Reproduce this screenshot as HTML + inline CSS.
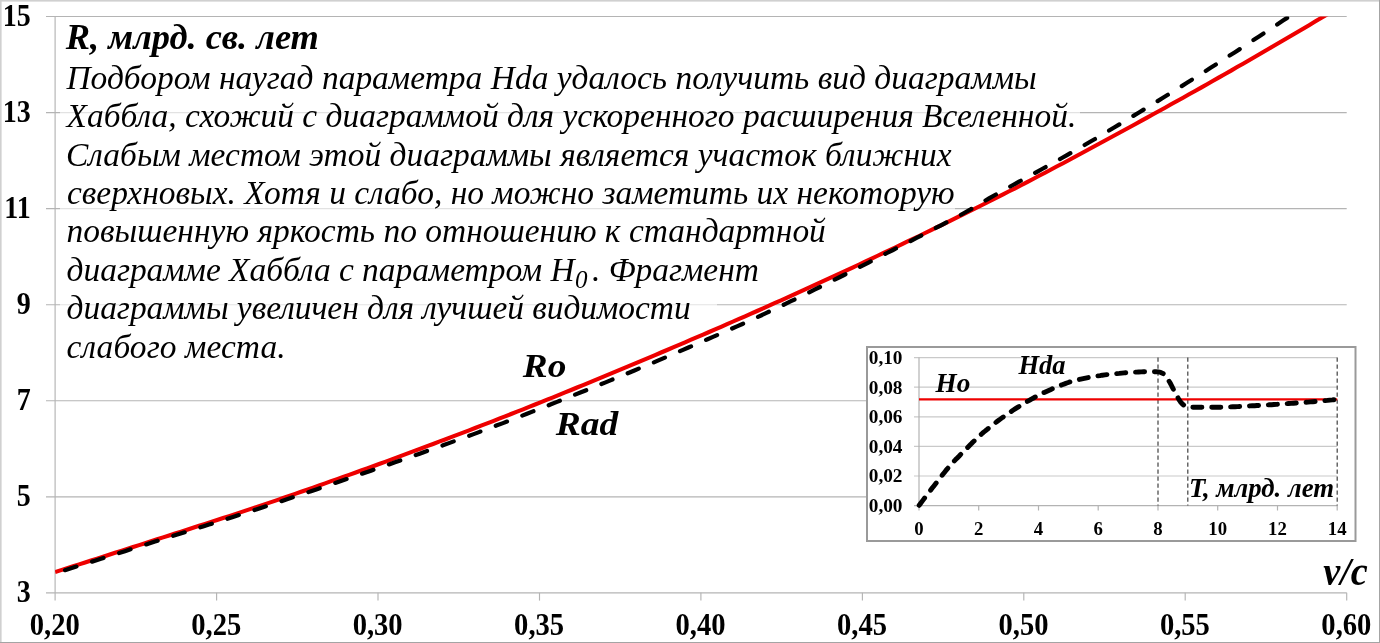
<!DOCTYPE html>
<html lang="ru"><head><meta charset="utf-8"><title>Диаграмма Хаббла</title>
<style>
html,body{margin:0;padding:0;background:#fff;}
body{width:1380px;height:643px;overflow:hidden;}
svg{display:block;}
text{font-family:"Liberation Serif",serif;fill:#000;}
.ax{font-weight:bold;}
.bi{font-weight:bold;font-style:italic;}
.it{font-style:italic;}
</style></head><body>
<svg width="1380" height="643" viewBox="0 0 1380 643">
<rect x="0" y="0" width="1380" height="643" fill="#fff"/>

<line x1="46" y1="592.9" x2="1346.7" y2="592.9" stroke="#b4b4b4" stroke-width="1.15"/>
<line x1="46" y1="496.8" x2="1346.7" y2="496.8" stroke="#b4b4b4" stroke-width="1.15"/>
<line x1="46" y1="400.7" x2="1346.7" y2="400.7" stroke="#b4b4b4" stroke-width="1.15"/>
<line x1="46" y1="304.7" x2="1346.7" y2="304.7" stroke="#b4b4b4" stroke-width="1.15"/>
<line x1="46" y1="208.6" x2="1346.7" y2="208.6" stroke="#b4b4b4" stroke-width="1.15"/>
<line x1="46" y1="112.6" x2="1346.7" y2="112.6" stroke="#b4b4b4" stroke-width="1.15"/>
<line x1="46" y1="16.5" x2="1346.7" y2="16.5" stroke="#b4b4b4" stroke-width="1.15"/>
<line x1="55.1" y1="16.5" x2="55.1" y2="600.6" stroke="#b4b4b4" stroke-width="1.15"/>
<line x1="216.6" y1="592.85" x2="216.6" y2="600.6" stroke="#b4b4b4" stroke-width="1.15"/>
<line x1="378.0" y1="592.85" x2="378.0" y2="600.6" stroke="#b4b4b4" stroke-width="1.15"/>
<line x1="539.5" y1="592.85" x2="539.5" y2="600.6" stroke="#b4b4b4" stroke-width="1.15"/>
<line x1="700.9" y1="592.85" x2="700.9" y2="600.6" stroke="#b4b4b4" stroke-width="1.15"/>
<line x1="862.4" y1="592.85" x2="862.4" y2="600.6" stroke="#b4b4b4" stroke-width="1.15"/>
<line x1="1023.8" y1="592.85" x2="1023.8" y2="600.6" stroke="#b4b4b4" stroke-width="1.15"/>
<line x1="1185.2" y1="592.85" x2="1185.2" y2="600.6" stroke="#b4b4b4" stroke-width="1.15"/>
<line x1="1346.7" y1="592.85" x2="1346.7" y2="600.6" stroke="#b4b4b4" stroke-width="1.15"/>
<rect x="60" y="20" width="1020" height="131" fill="#fff" fill-opacity="0.62"/>
<rect x="60" y="151" width="895" height="77" fill="#fff" fill-opacity="0.62"/>
<rect x="60" y="228" width="770" height="38" fill="#fff" fill-opacity="0.62"/>
<rect x="60" y="266" width="700" height="38" fill="#fff" fill-opacity="0.62"/>
<rect x="60" y="304" width="657" height="61" fill="#fff" fill-opacity="0.62"/>
<clipPath id="plot"><rect x="55.1" y="16.5" width="1291.6000000000001" height="576.35"/></clipPath>
<g clip-path="url(#plot)"><polyline points="55.1,572.0 61.1,570.1 67.1,568.2 73.1,566.3 79.1,564.4 85.1,562.5 91.1,560.5 97.1,558.6 103.1,556.7 109.1,554.8 115.1,552.8 121.1,550.9 127.1,549.0 133.1,547.0 139.1,545.1 145.1,543.2 151.1,541.2 157.1,539.3 163.1,537.4 169.1,535.5 175.1,533.5 181.1,531.6 187.1,529.7 193.1,527.7 199.1,525.8 205.1,523.9 211.1,521.9 217.1,520.0 223.1,518.0 229.1,516.1 235.1,514.1 241.1,512.1 247.1,510.1 253.1,508.1 259.1,506.1 265.1,504.1 271.1,502.1 277.1,500.1 283.1,498.0 289.1,496.0 295.1,493.9 301.1,491.8 307.1,489.7 313.1,487.6 319.1,485.5 325.1,483.4 331.1,481.2 337.1,479.1 343.1,477.0 349.1,474.8 355.1,472.7 361.1,470.5 367.1,468.3 373.1,466.2 379.1,464.0 385.1,461.8 391.1,459.6 397.1,457.4 403.1,455.2 409.1,452.9 415.1,450.7 421.1,448.5 427.1,446.2 433.1,444.0 439.1,441.7 445.1,439.5 451.1,437.2 457.1,434.9 463.1,432.6 469.1,430.3 475.1,428.0 481.1,425.7 487.1,423.4 493.1,421.1 499.1,418.7 505.1,416.4 511.1,414.0 517.1,411.7 523.1,409.3 529.1,406.9 535.1,404.5 541.1,402.1 547.1,399.7 553.1,397.3 559.1,394.8 565.1,392.4 571.1,390.0 577.1,387.5 583.1,385.1 589.1,382.6 595.1,380.1 601.1,377.6 607.1,375.2 613.1,372.7 619.1,370.2 625.1,367.7 631.1,365.2 637.1,362.6 643.1,360.1 649.1,357.6 655.1,355.1 661.1,352.5 667.1,350.0 673.1,347.4 679.1,344.9 685.1,342.3 691.1,339.7 697.1,337.2 703.1,334.6 709.1,332.0 715.1,329.4 721.1,326.8 727.1,324.2 733.1,321.5 739.1,318.9 745.1,316.3 751.1,313.6 757.1,311.0 763.1,308.3 769.1,305.6 775.1,302.9 781.1,300.3 787.1,297.6 793.1,294.8 799.1,292.1 805.1,289.4 811.1,286.7 817.1,283.9 823.1,281.2 829.1,278.4 835.1,275.6 841.1,272.9 847.1,270.1 853.1,267.3 859.1,264.5 865.1,261.7 871.1,258.8 877.1,256.0 883.1,253.2 889.1,250.3 895.1,247.5 901.1,244.6 907.1,241.7 913.1,238.8 919.1,236.0 925.1,233.0 931.1,230.1 937.1,227.2 943.1,224.3 949.1,221.3 955.1,218.4 961.1,215.4 967.1,212.5 973.1,209.5 979.1,206.5 985.1,203.5 991.1,200.5 997.1,197.4 1003.1,194.4 1009.1,191.3 1015.1,188.3 1021.1,185.2 1027.1,182.1 1033.1,179.0 1039.1,175.8 1045.1,172.7 1051.1,169.5 1057.1,166.3 1063.1,163.2 1069.1,160.0 1075.1,156.7 1081.1,153.5 1087.1,150.3 1093.1,147.0 1099.1,143.8 1105.1,140.5 1111.1,137.3 1117.1,134.0 1123.1,130.7 1129.1,127.5 1135.1,124.2 1141.1,120.9 1147.1,117.6 1153.1,114.3 1159.1,111.0 1165.1,107.7 1171.1,104.3 1177.1,101.0 1183.1,97.7 1189.1,94.3 1195.1,91.0 1201.1,87.6 1207.1,84.2 1213.1,80.8 1219.1,77.4 1225.1,74.0 1231.1,70.6 1237.1,67.1 1243.1,63.7 1249.1,60.2 1255.1,56.8 1261.1,53.3 1267.1,49.8 1273.1,46.3 1279.1,42.8 1285.1,39.3 1291.1,35.8 1297.1,32.3 1303.1,28.7 1309.1,25.2 1315.1,21.6 1321.1,18.1 1327.1,14.5 1333.1,10.9 1339.1,7.3" fill="none" stroke="#ee0000" stroke-width="4.1" stroke-linejoin="round"/>
<polyline points="65.0,570.2 71.0,568.3 77.0,566.4 83.0,564.5 89.0,562.6 95.0,560.7 101.0,558.8 107.0,556.9 113.0,555.0 119.0,553.1 125.0,551.2 131.0,549.2 137.0,547.3 143.0,545.4 149.0,543.5 155.0,541.6 161.0,539.7 167.0,537.8 173.0,535.9 179.0,534.1 185.0,532.2 191.0,530.3 197.0,528.4 203.0,526.5 209.0,524.6 215.0,522.7 221.0,520.8 227.0,518.9 233.0,516.9 239.0,515.0 245.0,513.1 251.0,511.2 257.0,509.2 263.0,507.2 269.0,505.3 275.0,503.3 281.0,501.3 287.0,499.3 293.0,497.3 299.0,495.3 305.0,493.3 311.0,491.2 317.0,489.2 323.0,487.1 329.0,485.1 335.0,483.0 341.0,481.0 347.0,478.9 353.0,476.9 359.0,474.8 365.0,472.7 371.0,470.7 377.0,468.6 383.0,466.5 389.0,464.4 395.0,462.3 401.0,460.2 407.0,458.1 413.0,456.0 419.0,453.9 425.0,451.7 431.0,449.6 437.0,447.4 443.0,445.3 449.0,443.1 455.0,440.9 461.0,438.8 467.0,436.6 473.0,434.4 479.0,432.1 485.0,429.9 491.0,427.6 497.0,425.3 503.0,423.1 509.0,420.8 515.0,418.4 521.0,416.1 527.0,413.8 533.0,411.4 539.0,409.1 545.0,406.7 551.0,404.3 557.0,401.9 563.0,399.5 569.0,397.1 575.0,394.7 581.0,392.3 587.0,389.9 593.0,387.5 599.0,385.0 605.0,382.6 611.0,380.1 617.0,377.7 623.0,375.2 629.0,372.7 635.0,370.2 641.0,367.7 647.0,365.2 653.0,362.7 659.0,360.1 665.0,357.6 671.0,355.0 677.0,352.5 683.0,349.9 689.0,347.3 695.0,344.7 701.0,342.1 707.0,339.5 713.0,336.9 719.0,334.3 725.0,331.6 731.0,329.0 737.0,326.3 743.0,323.7 749.0,321.0 755.0,318.2 761.0,315.5 767.0,312.6 773.0,309.8 779.0,307.0 785.0,304.1 791.0,301.2 797.0,298.3 803.0,295.3 809.0,292.4 815.0,289.4 821.0,286.5 827.0,283.5 833.0,280.5 839.0,277.5 845.0,274.5 851.0,271.5 857.0,268.4 863.0,265.3 869.0,262.3 875.0,259.2 881.0,256.1 887.0,253.0 893.0,250.0 899.0,246.9 905.0,243.9 911.0,240.8 917.0,237.7 923.0,234.6 929.0,231.5 935.0,228.4 941.0,225.3 947.0,222.1 953.0,219.0 959.0,215.8 965.0,212.5 971.0,209.1 977.0,205.5 983.0,201.9 989.0,198.4 995.0,195.0 1001.0,191.7 1007.0,188.3 1013.0,185.0 1019.0,181.7 1025.0,178.4 1031.0,175.1 1037.0,171.8 1043.0,168.5 1049.0,165.2 1055.0,161.8 1061.0,158.5 1067.0,155.1 1073.0,151.7 1079.0,148.3 1085.0,144.8 1091.0,141.3 1097.0,137.8 1103.0,134.2 1109.0,130.6 1115.0,127.0 1121.0,123.4 1127.0,119.8 1133.0,116.1 1139.0,112.5 1145.0,108.8 1151.0,105.2 1157.0,101.5 1163.0,97.8 1169.0,94.1 1175.0,90.3 1181.0,86.6 1187.0,82.8 1193.0,79.0 1199.0,75.3 1205.0,71.4 1211.0,67.6 1217.0,63.8 1223.0,59.9 1229.0,56.0 1235.0,52.2 1241.0,48.3 1247.0,44.4 1253.0,40.4 1259.0,36.5 1265.0,32.6 1271.0,28.6 1277.0,24.6 1283.0,20.6 1289.0,16.7 1295.0,12.6 1301.0,8.6 1307.0,4.5" fill="none" stroke="#000" stroke-width="4.2" stroke-linecap="round" stroke-dasharray="12 16.4" stroke-linejoin="round"/></g>
<text id="y3" class="ax" font-size="28" transform="translate(30.75 602.05) scale(1 1.11)" text-anchor="end">3</text>
<text id="y5" class="ax" font-size="28" transform="translate(30.75 505.99) scale(1 1.11)" text-anchor="end">5</text>
<text id="y7" class="ax" font-size="28" transform="translate(30.75 409.93) scale(1 1.11)" text-anchor="end">7</text>
<text id="y9" class="ax" font-size="28" transform="translate(30.75 313.88) scale(1 1.11)" text-anchor="end">9</text>
<text id="y11" class="ax" font-size="28" transform="translate(30.75 217.82) scale(1 1.11)" text-anchor="end">11</text>
<text id="y13" class="ax" font-size="28" transform="translate(30.75 121.76) scale(1 1.11)" text-anchor="end">13</text>
<text id="y15" class="ax" font-size="28" transform="translate(30.75 25.70) scale(1 1.11)" text-anchor="end">15</text>
<text id="x0" class="ax" font-size="28.6" transform="translate(54.75 634.60) scale(1 1.137)" text-anchor="middle">0,20</text>
<text id="x1" class="ax" font-size="28.6" transform="translate(216.20 634.60) scale(1 1.137)" text-anchor="middle">0,25</text>
<text id="x2" class="ax" font-size="28.6" transform="translate(377.65 634.60) scale(1 1.137)" text-anchor="middle">0,30</text>
<text id="x3" class="ax" font-size="28.6" transform="translate(539.10 634.60) scale(1 1.137)" text-anchor="middle">0,35</text>
<text id="x4" class="ax" font-size="28.6" transform="translate(700.55 634.60) scale(1 1.137)" text-anchor="middle">0,40</text>
<text id="x5" class="ax" font-size="28.6" transform="translate(862.00 634.60) scale(1 1.137)" text-anchor="middle">0,45</text>
<text id="x6" class="ax" font-size="28.6" transform="translate(1023.45 634.60) scale(1 1.137)" text-anchor="middle">0,50</text>
<text id="x7" class="ax" font-size="28.6" transform="translate(1184.90 634.60) scale(1 1.137)" text-anchor="middle">0,55</text>
<text id="x8" class="ax" font-size="28.6" transform="translate(1346.35 634.60) scale(1 1.137)" text-anchor="middle">0,60</text>
<text id="vc" class="bi" font-size="40" x="1323.20" y="584.50" textLength="44.62" lengthAdjust="spacingAndGlyphs">v/c</text>
<text id="title" class="bi" font-size="35.5" x="65.80" y="49.40" textLength="253.11" lengthAdjust="spacingAndGlyphs">R, млрд. св. лет</text>
<text id="l1" class="it" font-size="33.45" x="66.40" y="88.60" textLength="970.30" lengthAdjust="spacing">Подбором наугад параметра Hda удалось получить вид диаграммы</text>
<text id="l2" class="it" font-size="33.45" x="66.60" y="127.05" textLength="1009.69" lengthAdjust="spacing">Хаббла, схожий с диаграммой для ускоренного расширения Вселенной.</text>
<text id="l3" class="it" font-size="33.45" x="66.00" y="165.50" textLength="885.65" lengthAdjust="spacing">Слабым местом этой диаграммы является участок ближних</text>
<text id="l4" class="it" font-size="33.45" x="67.00" y="203.95" textLength="887.65" lengthAdjust="spacing">сверхновых. Хотя и слабо, но можно заметить их некоторую</text>
<text id="l5" class="it" font-size="33.45" x="66.60" y="242.40" textLength="759.24" lengthAdjust="spacing">повышенную яркость по отношению к стандартной</text>
<text id="l6" class="it" font-size="33.45" x="66.60" y="280.85" textLength="692.28" lengthAdjust="spacing">диаграмме Хаббла с параметром H<tspan font-size="25" dy="6.8" dx="0.5">0</tspan><tspan dy="-6.8" dx="4.5">. Фрагмент</tspan></text>
<text id="l7" class="it" font-size="33.45" x="66.60" y="319.30" textLength="624.05" lengthAdjust="spacing">диаграммы увеличен для лучшей видимости</text>
<text id="l8" class="it" font-size="33.45" x="66.60" y="357.75" textLength="218.98" lengthAdjust="spacing">слабого места.</text>
<text id="Ro" class="bi" font-size="34.5" x="522.80" y="376.80" textLength="43.47" lengthAdjust="spacingAndGlyphs">Ro</text>
<text id="Rad" class="bi" font-size="34.5" x="555.80" y="435.00" textLength="62.52" lengthAdjust="spacingAndGlyphs">Rad</text>
<rect x="867" y="347" width="488.5" height="194" fill="#fff" stroke="#9a9a9a" stroke-width="2"/>
<line x1="914" y1="505.6" x2="1337.2" y2="505.6" stroke="#b3b3b3" stroke-width="1.2"/>
<text id="iy0" class="ax" font-size="19.3" x="902.50" y="511.90" text-anchor="end">0,00</text>
<line x1="914" y1="476.0" x2="1337.2" y2="476.0" stroke="#c9c9c9" stroke-width="1.2"/>
<text id="iy1" class="ax" font-size="19.3" x="902.50" y="482.30" text-anchor="end">0,02</text>
<line x1="914" y1="446.4" x2="1337.2" y2="446.4" stroke="#c9c9c9" stroke-width="1.2"/>
<text id="iy2" class="ax" font-size="19.3" x="902.50" y="452.70" text-anchor="end">0,04</text>
<line x1="914" y1="416.8" x2="1337.2" y2="416.8" stroke="#c9c9c9" stroke-width="1.2"/>
<text id="iy3" class="ax" font-size="19.3" x="902.50" y="423.10" text-anchor="end">0,06</text>
<line x1="914" y1="387.2" x2="1337.2" y2="387.2" stroke="#c9c9c9" stroke-width="1.2"/>
<text id="iy4" class="ax" font-size="19.3" x="902.50" y="393.50" text-anchor="end">0,08</text>
<line x1="914" y1="357.6" x2="1337.2" y2="357.6" stroke="#c9c9c9" stroke-width="1.2"/>
<text id="iy5" class="ax" font-size="19.3" x="902.50" y="363.90" text-anchor="end">0,10</text>
<line x1="919.0" y1="357.6" x2="919.0" y2="510.5" stroke="#b3b3b3" stroke-width="1.2"/>
<text id="ix0" class="ax" font-size="18.8" x="919.00" y="534.60" text-anchor="middle">0</text>
<line x1="978.7" y1="505.6" x2="978.7" y2="510.5" stroke="#b3b3b3" stroke-width="1.2"/>
<text id="ix1" class="ax" font-size="18.8" x="978.74" y="534.60" text-anchor="middle">2</text>
<line x1="1038.5" y1="505.6" x2="1038.5" y2="510.5" stroke="#b3b3b3" stroke-width="1.2"/>
<text id="ix2" class="ax" font-size="18.8" x="1038.49" y="534.60" text-anchor="middle">4</text>
<line x1="1098.2" y1="505.6" x2="1098.2" y2="510.5" stroke="#b3b3b3" stroke-width="1.2"/>
<text id="ix3" class="ax" font-size="18.8" x="1098.23" y="534.60" text-anchor="middle">6</text>
<line x1="1158.0" y1="505.6" x2="1158.0" y2="510.5" stroke="#b3b3b3" stroke-width="1.2"/>
<text id="ix4" class="ax" font-size="18.8" x="1157.97" y="534.60" text-anchor="middle">8</text>
<line x1="1217.7" y1="505.6" x2="1217.7" y2="510.5" stroke="#b3b3b3" stroke-width="1.2"/>
<text id="ix5" class="ax" font-size="18.8" x="1217.71" y="534.60" text-anchor="middle">10</text>
<line x1="1277.5" y1="505.6" x2="1277.5" y2="510.5" stroke="#b3b3b3" stroke-width="1.2"/>
<text id="ix6" class="ax" font-size="18.8" x="1277.46" y="534.60" text-anchor="middle">12</text>
<line x1="1337.2" y1="505.6" x2="1337.2" y2="510.5" stroke="#b3b3b3" stroke-width="1.2"/>
<text id="ix7" class="ax" font-size="18.8" x="1337.20" y="534.60" text-anchor="middle">14</text>
<line x1="1158.0" y1="357.6" x2="1158.0" y2="505.6" stroke="#484848" stroke-width="1.25" stroke-dasharray="4.2 2.8"/>
<line x1="1187.8" y1="357.6" x2="1187.8" y2="505.6" stroke="#484848" stroke-width="1.25" stroke-dasharray="4.2 2.8"/>
<line x1="1337.2" y1="357.6" x2="1337.2" y2="505.6" stroke="#484848" stroke-width="1.25" stroke-dasharray="4.2 2.8"/>
<line x1="919.0" y1="399.4" x2="1337.2" y2="399.4" stroke="#ee0000" stroke-width="2.2"/>
<polyline points="919.2,505.3 920.7,503.3 922.1,501.4 923.6,499.4 925.0,497.5 926.5,495.6 928.0,493.6 929.5,491.7 930.9,489.8 932.4,487.8 933.9,485.9 935.4,484.0 936.9,482.1 938.4,480.1 939.9,478.2 941.4,476.3 942.9,474.3 944.4,472.4 945.9,470.5 947.5,468.7 949.0,466.8 950.6,465.0 952.3,463.2 953.9,461.4 955.6,459.6 957.3,457.9 959.0,456.2 960.7,454.4 962.4,452.7 964.1,451.0 965.9,449.2 967.6,447.5 969.3,445.8 971.0,444.1 972.7,442.3 974.5,440.6 976.2,438.9 978.0,437.3 979.8,435.6 981.6,434.0 983.4,432.4 985.3,430.9 987.2,429.3 989.1,427.8 991.0,426.2 992.9,424.7 994.8,423.2 996.7,421.8 998.7,420.3 1000.6,418.9 1002.6,417.4 1004.6,416.0 1006.6,414.6 1008.6,413.2 1010.6,411.9 1012.6,410.5 1014.7,409.2 1016.7,407.9 1018.8,406.6 1020.9,405.3 1023.0,404.1 1025.0,402.8 1027.1,401.6 1029.3,400.4 1031.4,399.1 1033.5,398.0 1035.6,396.8 1037.8,395.6 1039.9,394.5 1042.1,393.5 1044.3,392.4 1046.5,391.4 1048.7,390.4 1051.0,389.4 1053.2,388.4 1055.5,387.5 1057.7,386.6 1060.0,385.7 1062.2,384.7 1064.5,383.9 1066.8,383.0 1069.1,382.2 1071.4,381.5 1073.7,380.8 1076.1,380.2 1078.5,379.7 1080.8,379.1 1083.2,378.6 1085.6,378.1 1088.0,377.6 1090.4,377.2 1092.8,376.7 1095.2,376.3 1097.6,375.9 1100.0,375.6 1102.4,375.2 1104.8,374.9 1107.2,374.6 1109.7,374.4 1112.1,374.1 1114.5,373.9 1116.9,373.6 1119.3,373.4 1121.8,373.1 1124.2,372.9 1126.6,372.7 1129.0,372.5 1131.5,372.3 1133.9,372.2 1136.3,372.1 1138.8,372.0 1141.2,371.9 1143.6,371.8 1146.1,371.8 1148.5,371.8 1151.0,371.8 1153.4,371.8 1155.8,371.8 1158.2,371.9 1160.7,372.4 1163.0,373.4 1164.7,374.6 1166.2,376.5 1167.6,378.7 1168.9,380.9 1170.2,383.0 1171.3,385.1 1172.4,387.3 1173.5,389.5 1174.6,391.7 1175.8,393.8 1177.0,396.0 1178.2,398.2 1179.5,400.4 1180.8,402.3 1182.4,404.0 1184.4,405.6 1186.6,406.9 1188.8,407.2 1191.1,407.2 1193.4,407.2 1195.8,407.2 1198.3,407.2 1200.7,407.2 1203.2,407.2 1205.7,407.2 1208.2,407.2 1210.7,407.2 1213.2,407.2 1215.7,407.2 1218.1,407.2 1220.5,407.2 1223.0,407.2 1225.4,407.1 1227.8,407.0 1230.3,406.9 1232.7,406.8 1235.1,406.7 1237.6,406.6 1240.0,406.5 1242.4,406.3 1244.9,406.2 1247.3,406.1 1249.7,405.9 1252.2,405.8 1254.6,405.7 1257.0,405.5 1259.4,405.4 1261.9,405.3 1264.3,405.1 1266.7,405.0 1269.2,404.8 1271.6,404.7 1274.0,404.5 1276.5,404.4 1278.9,404.2 1281.3,404.0 1283.7,403.9 1286.2,403.7 1288.6,403.5 1291.0,403.4 1293.5,403.2 1295.9,403.0 1298.3,402.8 1300.7,402.7 1303.2,402.5 1305.6,402.3 1308.0,402.1 1310.4,401.9 1312.9,401.7 1315.3,401.5 1317.7,401.3 1320.1,401.0 1322.6,400.8 1325.0,400.6 1327.4,400.4 1329.8,400.1 1332.3,399.9 1334.7,399.6 1337.1,399.4" fill="none" stroke="#000" stroke-width="4.9" stroke-linecap="round" stroke-linejoin="round" stroke-dasharray="9.1 9.8"/>
<text id="Ho" class="bi" font-size="26.3" x="935.60" y="392.00" textLength="34.81" lengthAdjust="spacingAndGlyphs">Ho</text>
<text id="Hda" class="bi" font-size="26.3" x="1018.40" y="373.80" textLength="47.17" lengthAdjust="spacingAndGlyphs">Hda</text>
<text id="Tl" class="bi" font-size="26.3" x="1189.00" y="497.10" textLength="144.98" lengthAdjust="spacingAndGlyphs">T, млрд. лет</text>
<rect x="0" y="0" width="1380" height="1.6" fill="#d0d0d0"/><rect x="0" y="0" width="1.6" height="643" fill="#d0d0d0"/>
<rect x="1379" y="0" width="1" height="643" fill="#a4a4a4"/><rect x="0" y="642" width="1380" height="1" fill="#a4a4a4"/>
</svg></body></html>
